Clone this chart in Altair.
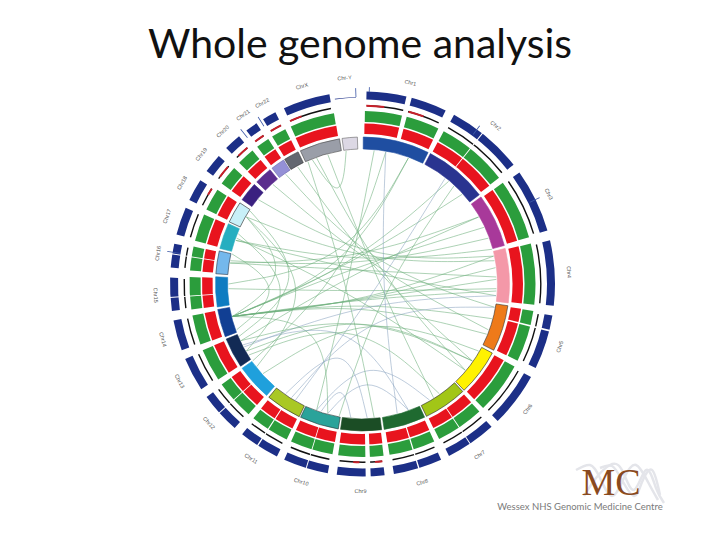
import math
import altair as alt
import pandas as pd

TITLE = "Whole genome analysis"
CX, CY = 362.5, 284.0

chrom = ["Chr1","Chr2","Chr3","Chr4","Chr5","Chr6","Chr7","Chr8","Chr9","Chr10","Chr11","Chr12",
         "Chr13","Chr14","Chr15","Chr16","Chr17","Chr18","Chr19","Chr20","Chr21","Chr22","ChrX","ChrY"]
start = [0.3,27.5,53.7,76,98.5,118,137,155,172.5,189.5,205.5,220.7,236,249,261,274,284,295,305,314,322,328,335,352]
end =   [26.5,52.6,74.8,97.4,116.8,136.3,154.2,171.5,188.6,204.9,219.6,235,248,260,272.8,283,294.2,303.5,312.6,321,327.5,334,351,358]
inner_col = ["#1f4ea1","#2a3490","#a8399a","#f498a8","#ee7a1a","#fff200","#a2c617","#1f6a30","#1b4d25",
             "#2aa39a","#a9c825","#1fa0dc","#122a55","#113f93","#0e7cc1","#74b8ec","#26aec0","#c8f0f8",
             "#3a2080","#5b2d8e","#9490d6","#636870","#9a9ea8","#dcd8e4"]
inner_edge = ["#1f4ea1","#2a3490","#a8399a","#f498a8","#333333","#222222","#222222","#1f6a30","#1b4d25",
              "#223333","#222222","#1fa0dc","#122a55","#113f93","#0e7cc1","#223344","#26aec0","#222222",
              "#3a2080","#5b2d8e","#6a66aa","#333333","#444444","#666666"]

ring_names = ["inner","red","green","black","blue"]
ring_r0 = [135,150,162,177.6,184.5]
ring_r1 = [147,160.5,173,179,192.5]
ring_col = [None,"#e8141e","#2b9d3c","#111111","#1c2f87"]
ring_pad = [0,0.4,0.5,1.2,0.9]

gap_theta = [14,38.5,104,146,163,178.3,197,213,228,266,279]
gap_width = [1.6,0.3,0.5,0.3,0.4,1.5,0.3,0.4,0.3,0.3,0.3]

red_a = [1.2,15,173.6,181,300,307,316,323,329,336]
red_b = [7,20,176,183,302.3,311,319.8,326.3,332.8,340]

spike_theta = [2,36.5,64,279.5,321.8,328,358]
spike_r0 = [192,186,186,185,186,186,187]
spike_r1 = [197,197,197,198,197,197,196]

ends_a = [256,256,256,256,256,256,256,256,256,256,256,256,279,279,268,289,289,300,340,345,338,331,325,318,309,
          5,10,20,38,43,60,70,80,125,130,145,160,165,178,185,195,200,212,228,242,245,292,283,303,336]
ends_b = [88,93,83,78,105,112,65,48,40,20,300,195,87,60,92,95,75,232,130,148,353,125,100,110,78,
          200,235,270,210,190,245,280,300,240,290,238,243,10,215,198,160,150,100,120,95,125,240,250,247,175]
ctrl = [.12,.1,.14,.16,.1,.1,.15,.15,.12,.1,.45,.3,.1,.15,.06,.08,.12,.25,.12,.1,.55,.1,.1,.12,.12,
        .1,.1,.12,.12,.12,.12,.1,.12,.12,.08,.15,.15,.12,.3,.7,.6,.45,.12,.12,.1,.15,.4,.5,.3,.1]
kinds = ["g"]*50
for i in (28,36,37,38,39,40,41,42,44):
    kinds[i] = "b"
kind_color = {"g":"#6cae7a","b":"#8aa3c0"}

helix_x = [[576,590,600,612,624,636,648,658],[584,596,610,622,634,646,656,664],[600,612,622,634,642,652,660]]
helix_y = [[470,465,478,496,478,465,482,500],[496,478,465,470,490,470,488,503],[468,466,480,496,482,470,495]]

logo_big = "MC"
logo_small = "Wessex NHS Genomic Medicine Centre"

def pol(theta, r):
    t = math.radians(theta)
    return CX + r * math.sin(t), CY - r * math.cos(t)

# ---------- tables built from the arrays above
rows = []
for i, name in enumerate(chrom):
    for j, ring in enumerate(ring_names):
        if name == "ChrY" and ring != "inner":
            continue
        rows.append(dict(chrom=name, ring=ring, a=start[i] + ring_pad[j], b=end[i] - ring_pad[j],
                         r0=ring_r0[j], r1=ring_r1[j],
                         fill=inner_col[i] if ring == "inner" else ring_col[j],
                         edge=inner_edge[i] if ring == "inner" else ring_col[j],
                         sw=0.6 if ring == "inner" else 0))
rows.append(dict(chrom="ChrY", ring="blue", a=351.5, b=358, r0=186.6, r1=187.2, fill="#1c2f87", edge="#1c2f87", sw=0))
arcs = pd.DataFrame(rows)

reds = pd.DataFrame(dict(a=red_a, b=red_b, r0=[177.4]*len(red_a), r1=[179.3]*len(red_a)))
gaps = pd.DataFrame(dict(a=[t - w/2 for t, w in zip(gap_theta, gap_width)],
                         b=[t + w/2 for t, w in zip(gap_theta, gap_width)],
                         r0=[149]*len(gap_theta), r1=[193.5]*len(gap_theta)))
spikes = pd.DataFrame(dict(a=[t - 0.12 for t in spike_theta], b=[t + 0.12 for t in spike_theta],
                           r0=spike_r0, r1=spike_r1))

cp = []
for k, (a, b, c, kd) in enumerate(zip(ends_a, ends_b, ctrl, kinds)):
    d = (b - a + 540) % 360 - 180
    mid = a + d / 2
    for o, (t, r) in enumerate([(a, 134), (mid, 134 * c), (b, 134)]):
        x, y = pol(t, r)
        cp.append(dict(id=k, o=o, x=x, y=y, kind=kd))
chords = pd.DataFrame(cp)

lab = []
for name, s, e in zip(chrom, start, end):
    m = (s + e) / 2
    x, y = pol(m, 207)
    ang = m if m <= 90 else (m - 180 if m < 270 else m - 360)
    lab.append(dict(label="Chr-Y" if name == "ChrY" else name, x=x, y=y, ang=ang))
labels = pd.DataFrame(lab)

hel = []
for s, (xs, ys) in enumerate(zip(helix_x, helix_y)):
    for o, (x, y) in enumerate(zip(xs, ys)):
        hel.append(dict(s=s, o=o, x=x, y=y))
helix = pd.DataFrame(hel)

# ---------- scales
X = alt.Scale(domain=[8, 712], range=[0, 704])
Y = alt.Scale(domain=[78, 532], range=[0, 454])
TH = alt.Scale(domain=[0, 360], range=[0, 2 * math.pi])
RD = alt.Scale(type="linear", domain=[0, 200], range=[0, 200])

def arc_enc(c):
    return c.encode(
        x=alt.value(CX - 8), y=alt.value(CY - 78),
        theta=alt.Theta("a:Q", scale=TH, stack=False), theta2=alt.Theta2("b:Q"),
        radius=alt.Radius("r0:Q", scale=RD), radius2=alt.Radius2("r1:Q"),
    )

ring_layer = arc_enc(alt.Chart(arcs).mark_arc()).encode(
    fill=alt.Fill("fill:N", scale=None), stroke=alt.Stroke("edge:N", scale=None),
    strokeWidth=alt.StrokeWidth("sw:Q", scale=None))
red_layer = arc_enc(alt.Chart(reds).mark_arc(color="#c8202a"))
gap_layer = arc_enc(alt.Chart(gaps).mark_arc(color="white"))
spike_layer = arc_enc(alt.Chart(spikes).mark_arc(color="#3f5aa8"))

chord_layer = alt.Chart(chords).mark_line(interpolate="bundle", tension=0.85, strokeWidth=0.7, opacity=0.8).encode(
    x=alt.X("x:Q", scale=X, axis=None), y=alt.Y("y:Q", scale=Y, axis=None),
    detail="id:N", order="o:Q",
    color=alt.Color("kind:N", scale=alt.Scale(domain=list(kind_color), range=list(kind_color.values())), legend=None))

label_layer = alt.Chart(labels).mark_text(font="Liberation Sans", fontSize=5.5, color="#555555").encode(
    x=alt.X("x:Q", scale=X, axis=None), y=alt.Y("y:Q", scale=Y, axis=None),
    text="label:N", angle=alt.Angle("ang:Q", scale=None))

helix_layer = alt.Chart(helix).mark_line(interpolate="natural", color="#e4e5ea", strokeWidth=2.5).encode(
    x=alt.X("x:Q", scale=X, axis=None), y=alt.Y("y:Q", scale=Y, axis=None), detail="s:N", order="o:Q")

big = alt.Chart(pd.DataFrame(dict(t=[logo_big], x=[611], y=[484]))).mark_text(
    font="Liberation Serif", fontSize=38, color="#8a4a1e").encode(
    x=alt.X("x:Q", scale=X, axis=None), y=alt.Y("y:Q", scale=Y, axis=None), text="t:N")
small = alt.Chart(pd.DataFrame(dict(t=[logo_small], x=[580], y=[507]))).mark_text(
    font="Lato", fontSize=9.5, color="#7a7a7a").encode(
    x=alt.X("x:Q", scale=X, axis=None), y=alt.Y("y:Q", scale=Y, axis=None), text="t:N")

chart = alt.layer(chord_layer, ring_layer, red_layer, gap_layer, spike_layer, label_layer,
                  helix_layer, big, small).properties(
    width=704, height=454,
    padding={"left": 0, "right": 0, "top": 70, "bottom": 0},
    autosize=alt.AutoSizeParams(type="none"),
    title=alt.TitleParams(TITLE, font="Lato", fontSize=41, fontWeight="normal", color="#111111",
                          anchor="middle", offset=8),
).configure_view(stroke=None).resolve_scale(color="independent")

chart.save("out.html", embed_options={"renderer": "svg", "actions": False})
